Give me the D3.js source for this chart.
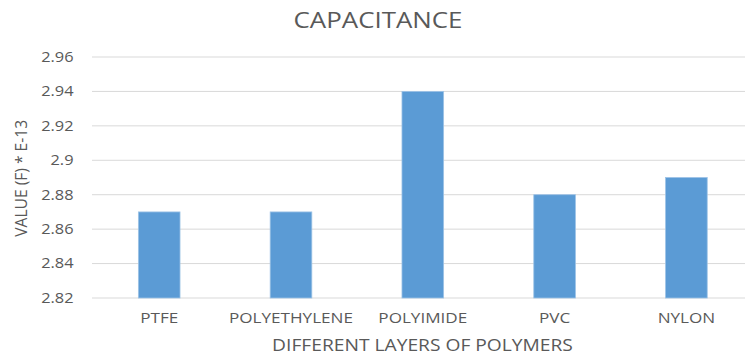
<!DOCTYPE html>
<html><head><meta charset="utf-8">
<script src="https://cdn.jsdelivr.net/npm/d3@7"></script>
<style>body{margin:0;background:#fff;} svg{display:block;} text{font-family:"Open Sans",sans-serif;fill:#595959;}</style>
</head><body><svg id="c" width="745" height="356"></svg>
<script>
const categories = ["PTFE","POLYETHYLENE","POLYIMIDE","PVC","NYLON"];
const values = [2.87, 2.87, 2.94, 2.88, 2.89];
const yTicks = [2.82, 2.84, 2.86, 2.88, 2.90, 2.92, 2.94, 2.96];
const yTickLabels = ["2.82","2.84","2.86","2.88","2.9","2.92","2.94","2.96"];
const title = "CAPACITANCE";
const xTitle = "DIFFERENT LAYERS OF POLYMERS";
const yTitle = "VALUE (F) * E-13";

const svg = d3.select("#c");
const x = d3.scaleBand().domain(categories).range([93.3, 752.3]).padding(0);
const y = d3.scaleLinear().domain([2.82, 2.96]).range([298, 57]);
const barFrac = 0.316;

// place text at (px,py) stretched horizontally by factor sx (rot = rotation)
function placed(g, px, py, sx, rot) {
  return g.attr("transform", `translate(${px},${py})` + (rot ? ` rotate(${rot})` : "") + ` scale(${sx},1)`);
}

svg.append("g").selectAll("line").data(yTicks).join("line")
  .attr("x1", 92).attr("x2", 745)
  .attr("y1", d => y(d)).attr("y2", d => y(d))
  .attr("stroke", "#d9d9d9").attr("stroke-width", 1);

const bw = x.bandwidth() * barFrac;
svg.append("g").selectAll("rect").data(values).join("rect")
  .attr("x", (d,i) => x(categories[i]) + (x.bandwidth() - bw)/2)
  .attr("width", bw)
  .attr("y", d => y(d))
  .attr("height", d => y(2.82) - y(d))
  .attr("fill", "#5b9bd5")
  .attr("stroke", "#9dc3e6").attr("stroke-width", 0.8);

svg.append("g").selectAll("text").data(yTicks).join("text")
  .attr("transform", d => `translate(73.5,${y(d)}) scale(1.17,1)`)
  .attr("dy", "0.35em")
  .attr("text-anchor", "end").attr("font-size", 14)
  .text((d,i) => yTickLabels[i]);

svg.append("g").selectAll("text").data(categories).join("text")
  .attr("transform", d => `translate(${x(d) + x.bandwidth()/2},323.3) scale(1.18,1)`)
  .attr("text-anchor", "middle").attr("font-size", 14.5)
  .text(d => d);

function fitText(sel, target) {
  const w = sel.node().getComputedTextLength();
  return target / w;
}
const t = svg.append("text").attr("text-anchor", "middle").attr("font-size", 21).text(title);
placed(t, 378, 28, fitText(t, 169));
const xt = svg.append("text").attr("text-anchor", "middle").attr("font-size", 16).text(xTitle);
placed(xt, 422.5, 351, fitText(xt, 301));
const yt = svg.append("text").attr("text-anchor", "middle").attr("font-size", 15.5).text(yTitle);
placed(yt, 26.5, 178.3, fitText(yt, 117), -90);
</script></body></html>
